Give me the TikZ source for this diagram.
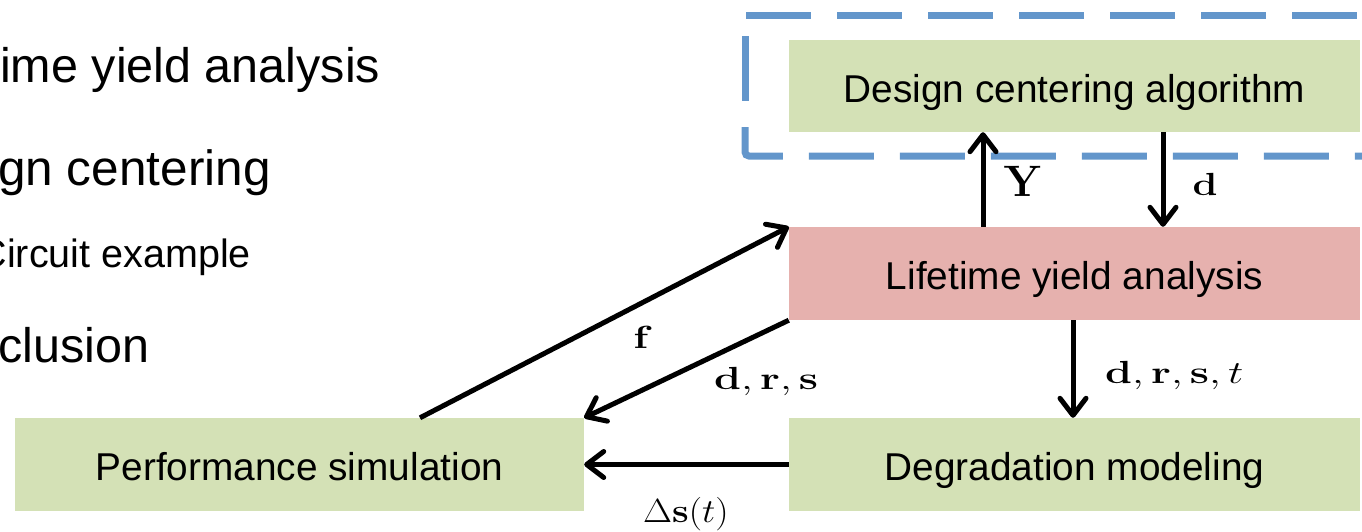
\documentclass[tikz,border=0pt]{standalone}
\usepackage{fix-cm}
\usepackage{graphicx}
\usepackage[no-math]{fontspec}
\setmainfont{Liberation Sans}
\usetikzlibrary{arrows.meta}
\definecolor{boxgreen}{HTML}{D4E1B6}
\definecolor{boxred}{HTML}{E6B1AE}
\definecolor{dashblue}{HTML}{6396CB}
\tikzset{
  blk/.style={draw=none, inner sep=0pt, minimum width=571pt, minimum height=93pt,
    text height=32pt, text depth=0pt, font=\fontsize{38.8}{44}\selectfont},
  gbox/.style={blk, fill=boxgreen},
  rbox/.style={blk, fill=boxred},
  arr/.style={line width=5pt, -{Straight Barb[length=17pt,width=26pt,line cap=round,line join=round]}},
  lbl/.style={inner sep=0pt, font=\fontsize{32}{36}\selectfont},
  big/.style={inner sep=0pt, font=\fontsize{48.5}{56}\selectfont},
  dashb/.style={draw=dashblue, line width=7pt, dash pattern=on 65pt off 26pt}
}
\begin{document}
\begin{tikzpicture}[x=1pt,y=-1pt]
\useasboundingbox (0,0) rectangle (1362,531);
% left outline text
\node[big, anchor=base west] (t1) at (0,82) {ime yield analysis};
\node[big, font=\fontsize{49.5}{56}\selectfont, anchor=base west] (t2) at (-2,185) {gn centering};
\node[inner sep=0pt, font=\fontsize{39.5}{44}\selectfont, anchor=base west] (t3) at (-21.5,267) {Circuit example};
\node[big, anchor=base west] (t4) at (-2,362) {clusion};
% dashed frame
\draw[dashb, rounded corners=4pt] (745,127) -- (745,156) -- (1420,156);
\draw[dashb] (745,36) -- (745,102);
\draw[dashb] (746,15) -- (1420,15);
% boxes
\node[gbox, minimum height=92pt] (design) at (1074.5,86) {Design centering algorithm};
\node[rbox] (life) at (1074.5,273.5) {Lifetime yield analysis};
\node[gbox] (degr) at (1074.5,464.5) {Degradation modeling};
\node[gbox, minimum width=569pt] (perf) at (299.5,464.5) {Performance simulation};
% arrows
\draw[arr] (life.north -| 983,0) -- (design.south -| 983,0);
\draw[arr] (design.south -| 1163,0) -- (life.north -| 1163,0);
\draw[arr] (perf.north -| 420,0) -- (life.north west);
\draw[arr] (life.south west) -- (perf.north east);
\draw[arr] (degr.west) -- (perf.east);
\draw[arr] (life.south -| 1073,0) -- (degr.north -| 1073,0);
% labels
\node[inner sep=0pt, font=\fontsize{44}{50}\selectfont, anchor=base] (lY) at (1023,196) {$\mathbf{Y}$};
\node[lbl, anchor=base] (ld) at (1205,195) {\scalebox{1.25}[1]{$\mathbf{d}$}};
\node[lbl, anchor=base] (lf) at (643,348) {\scalebox{1.35}[1]{$\mathbf{f}$}};
\node[lbl, anchor=base west] (ldrs) at (714,389) {\scalebox{1.35}[1]{$\mathbf{d},\mathbf{r},\mathbf{s}$}};
\node[lbl, anchor=base west] (ldrst) at (1105,383) {\scalebox{1.35}[1]{$\mathbf{d},\mathbf{r},\mathbf{s},t$}};
\node[inner sep=0pt, font=\fontsize{33.5}{38}\selectfont, anchor=base west] (lds) at (643,522) {\scalebox{1.12}[1]{$\Delta\mathbf{s}(t)$}};
\end{tikzpicture}
\end{document}
